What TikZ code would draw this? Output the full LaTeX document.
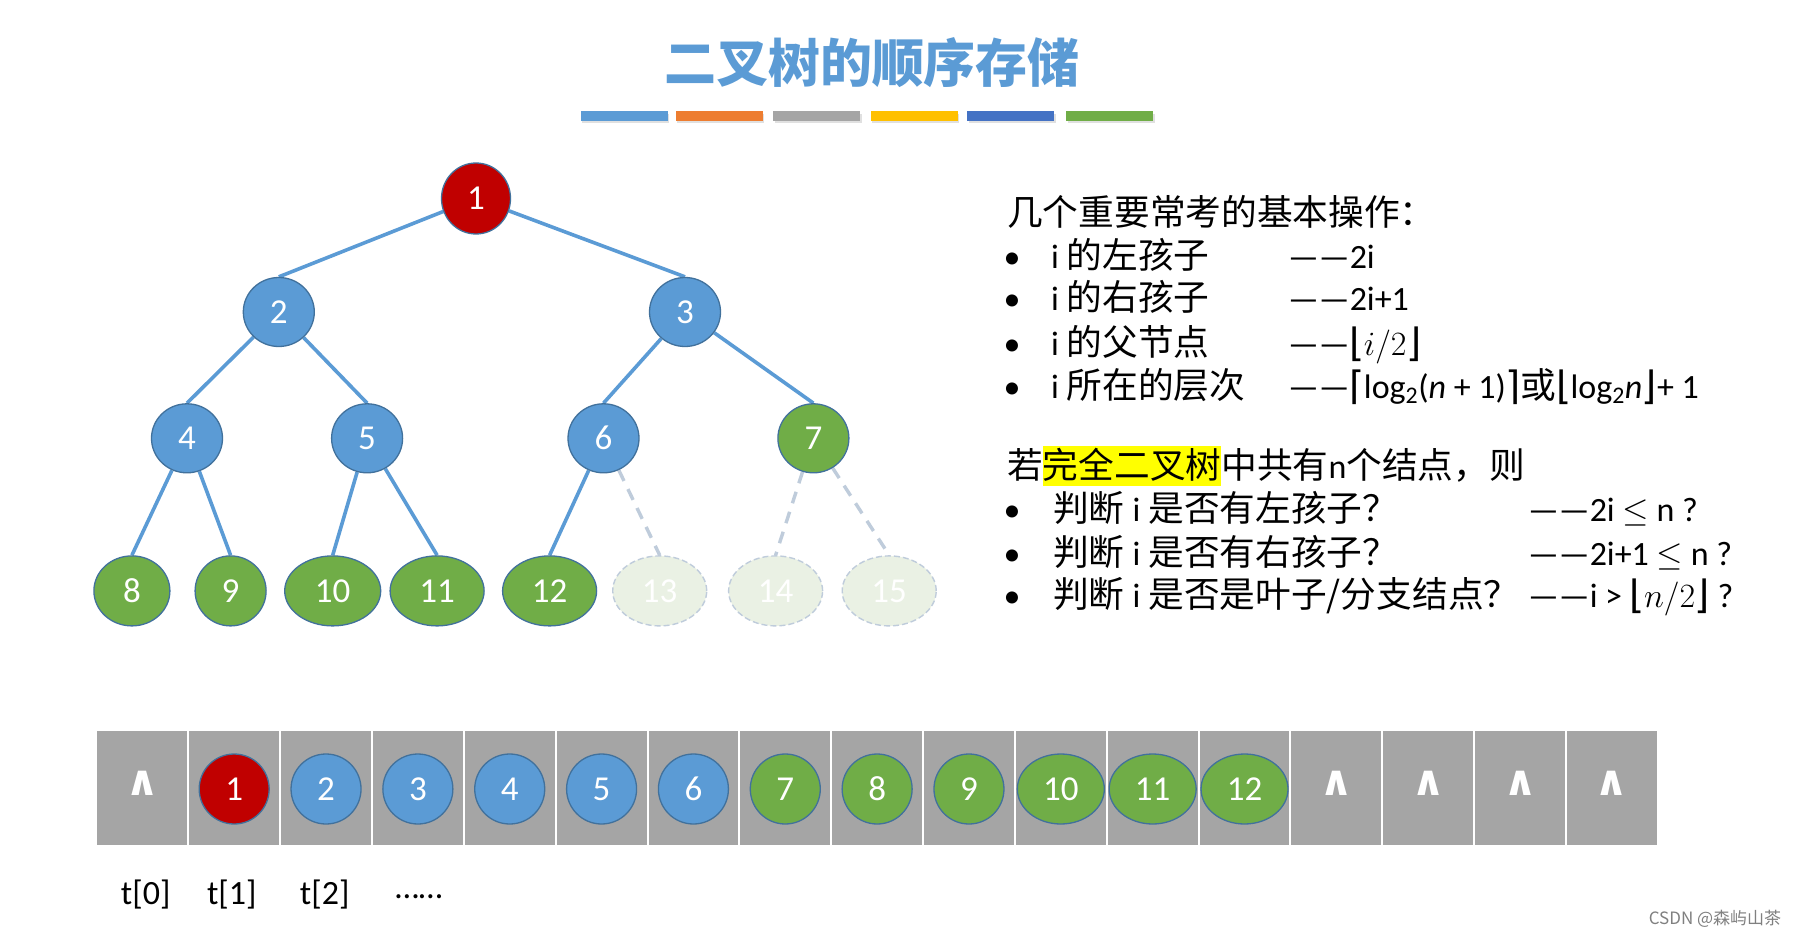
\RequirePackage{fix-cm}
\documentclass[tikz,border=0pt]{standalone}
\usepackage{fontspec}
\setmainfont{Carlito}
\newfontfamily\cjk[Scale=1.05]{Noto Sans CJK SC}
\newfontfamily\dejavu{DejaVu Sans}
\usetikzlibrary{shapes.geometric,backgrounds}
\definecolor{tblue}{HTML}{5B9BD5}
\definecolor{tbord}{HTML}{41719C}
\definecolor{tred}{HTML}{C00000}
\definecolor{tgreen}{HTML}{70AD47}
\definecolor{tgray}{HTML}{A5A5A5}
\definecolor{torange}{HTML}{ED7D31}
\definecolor{tgold}{HTML}{FFC000}
\definecolor{tdblue}{HTML}{4472C4}
\definecolor{fadefill}{HTML}{EAF1E4}
\definecolor{fadeline}{HTML}{BFCCDB}
\definecolor{hlyellow}{HTML}{FFFF00}
\newcommand{\hlbox}[1]{{\setlength{\fboxsep}{0pt}\colorbox{hlyellow}{\rule[-0.22em]{0pt}{1.12em}#1}}}
\newcommand{\brk}[1]{\raisebox{-1.5pt}{\dejavu\fontsize{39}{39}\selectfont #1}}
\newcommand{\lfl}{\brk{⌊}\kern-1pt}
\newcommand{\rfl}{\kern-0.5pt\brk{⌋}}
\newcommand{\lce}{\brk{⌈}\kern-1pt}
\newcommand{\rce}{\kern-0.5pt\brk{⌉}}
\begin{document}
\begin{tikzpicture}[x=1pt,y=-1pt,
  nd/.style={ellipse, draw=tbord, line width=1.3pt, inner sep=0pt, minimum width=71pt, minimum height=69pt, text=white, font=\fontsize{35}{35}\selectfont},
  bl/.style={nd, fill=tblue},
  rd/.style={nd, fill=tred},
  gr/.style={nd, fill=tgreen},
  wide/.style={minimum width=94pt, minimum height=70pt},
  fd/.style={nd, fill=fadefill, draw=fadeline, line width=1.4pt, dash pattern=on 6pt off 3pt, minimum width=94pt, minimum height=70pt},
  tedge/.style={draw=tblue, line width=3.6pt},
  dedge/.style={draw=fadeline, line width=3.4pt, dash pattern=on 12pt off 9pt},
  cell/.style={rectangle, fill=tgray, draw=white, line width=2pt, minimum width=91.85pt, minimum height=116pt, inner sep=0pt},
  wedgemark/.style={text=white, font=\fontsize{42}{42}\selectfont\dejavu\bfseries, inner sep=0pt},
  txt/.style={anchor=base west, inner sep=0pt, font=\fontsize{34}{40}\selectfont},
  bul/.style={anchor=base, inner sep=0pt, font=\fontsize{34}{40}\selectfont},
  lab/.style={inner sep=0pt, font=\fontsize{34}{40}\selectfont},
  bar/.style={inner sep=0pt, minimum width=87pt, minimum height=9.5pt}
]
\useasboundingbox (0,0) rectangle (1799,939);

% title
\node[text=tblue, font=\fontsize{49.5}{50}\selectfont\cjk\bfseries] (title) at (872,63) {二叉树的顺序存储};

% colour bars
\foreach \c/\xx in {tblue/624.1, torange/719.4, tgray/816.9, tgold/914.4, tdblue/1010.8, tgreen/1109.5}{
  \node[bar, fill=black!12] at (\xx+1.5,118.5) {};
  \node[bar, fill=\c] at (\xx,116) {};
}

% tree
\node[rd, minimum width=69pt, minimum height=71pt] (n1) at (476,198.5) {1};
\node[bl] (n2) at (278.8,312) {2};
\node[bl] (n3) at (685,312) {3};
\node[bl] (n4) at (187,438.3) {4};
\node[bl] (n5) at (367.1,438.3) {5};
\node[bl] (n6) at (603.5,438.3) {6};
\node[gr] (n7) at (813.4,438.3) {7};
\node[gr, minimum width=76pt, minimum height=70pt] (n8) at (131.9,590.9) {8};
\node[gr, minimum height=70pt] (n9) at (230.6,590.9) {9};
\node[gr, wide, minimum width=96pt] (n10) at (332.7,590.9) {10};
\node[gr, wide] (n11) at (437.1,590.9) {11};
\node[gr, wide] (n12) at (549.6,590.9) {12};
\node[fd] (n13) at (659.7,590.9) {13};
\node[fd] (n14) at (775.6,590.9) {14};
\node[fd] (n15) at (889.2,590.9) {15};

\begin{scope}[on background layer]
  \fill[white] (0,0) rectangle (1799,939);
  \draw[tedge] (n1) -- (n2.north);
  \draw[tedge] (n1) -- (n3.north);
  \draw[tedge] (n2) -- (n4.north);
  \draw[tedge] (n2) -- (n5.north);
  \draw[tedge] (n3) -- (n6.north);
  \draw[tedge] (n3) -- (n7.north);
  \draw[tedge] (n4) -- (n8.north);
  \draw[tedge] (n4) -- (n9.north);
  \draw[tedge] (n5) -- (n10.north);
  \draw[tedge] (n5) -- (n11.north);
  \draw[tedge] (n6) -- (n12.north);
  \draw[dedge] (n6) -- (n13.north);
  \draw[dedge] (n7) -- (n14.north);
  \draw[dedge] (n7) -- (n15.north);
\end{scope}

% right text
\node[txt] (h1) at (1007,225) {\cjk 几个重要常考的基本操作：};
\node[bul] (b1) at (1012,268) {•};
\node[txt] (l1) at (1051,268) {i {\cjk 的左孩子}};
\node[txt] (r1) at (1288,268) {——2i};
\node[bul] (b2) at (1012,310) {•};
\node[txt] (l2) at (1051,310) {i {\cjk 的右孩子}};
\node[txt] (r2) at (1288,310) {——2i+1};
\node[bul] (b3) at (1012,355) {•};
\node[txt] (l3) at (1051,355) {i {\cjk 的父节点}};
\node[txt] (r3) at (1288,355) {——\lfl$i/2$\rfl};
\node[bul] (b4) at (1012,398) {•};
\node[txt] (l4) at (1051,398) {i {\cjk 所在的层次}};
\node[txt] (r4) at (1288,398) {——\lce log\textsubscript{2}(\textit{n} + 1)\rce{\cjk 或}\lfl log\textsubscript{2}\textit{n}\rfl+ 1};

\node[txt] (h2) at (1007,478) {\cjk 若\hlbox{完全二叉树}中共有{\rmfamily n}个结点，则};
\node[bul] (b5) at (1012,521) {•};
\node[txt] (m1) at (1053,521) {\cjk 判断 {\rmfamily i} 是否有左孩子？};
\node[txt] (s1) at (1528,521) {——2i $\leq$ n ?};
\node[bul] (b6) at (1012,565) {•};
\node[txt] (m2) at (1053,565) {\cjk 判断 {\rmfamily i} 是否有右孩子？};
\node[txt] (s2) at (1528,565) {——2i+1 $\leq$ n ?};
\node[bul] (b7) at (1012,607) {•};
\node[txt] (m3) at (1053,607) {\cjk 判断 {\rmfamily i} 是否是叶子/分支结点？};
\node[txt] (s3) at (1528,607) {——i > \lfl$n/2$\rfl\ ?};

% array
\foreach \k in {0,...,16}{
  \node[cell] (c\k) at ({96.4+91.85*(\k+0.5)},787.6) {};
}
\foreach \k in {0,13,14,15,16}{
  \node[wedgemark] (w\k) at ({96.4+91.85*(\k+0.5)},783) {∧};
}
\node[rd, minimum width=70pt, minimum height=70pt] (a1) at ({96.4+91.85*1.5},789) {1};
\foreach \k in {2,...,6}{
  \node[bl, minimum width=70pt, minimum height=70pt] (a\k) at ({96.4+91.85*(\k+0.5)},789) {\k};
}
\foreach \k in {7,8,9}{
  \node[gr, minimum width=70pt, minimum height=70pt] (a\k) at ({96.4+91.85*(\k+0.5)},789) {\k};
}
\foreach \k in {10,11,12}{
  \node[gr, minimum width=87pt, minimum height=70pt] (a\k) at ({96.4+91.85*(\k+0.5)},789) {\k};
}

% labels
\node[lab] (t0) at (145.7,895) {t[0]};
\node[lab] (t1) at (231.8,895) {t[1]};
\node[lab] (t2) at (324.7,895) {t[2]};
\node[lab] (dots) at (418.8,897) {……};

\node[text=black!50, font=\fontsize{16.2}{17}\selectfont\cjk, inner sep=0pt] (csdn) at (1715,919) {CSDN @森屿山茶};
\end{tikzpicture}
\end{document}
